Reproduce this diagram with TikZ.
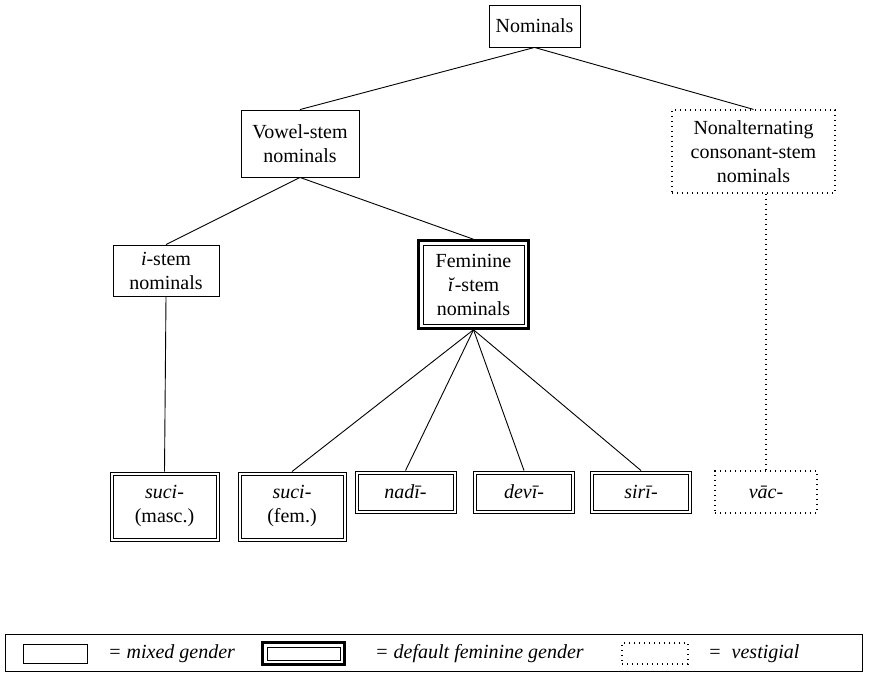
\documentclass[tikz,border=0pt]{standalone}
\usepackage{fontspec}
\setmainfont{Liberation Serif}
\usetikzlibrary{fit,calc}
\begin{document}
\begin{tikzpicture}[x=1pt,y=-1pt,
  txt/.style={font=\fontsize{20}{24}\selectfont, align=center, inner sep=0pt},
  mixedbox/.style={txt, draw, line width=0.9pt},
  leafbox/.style={txt, draw, line width=0.9pt},
  innerrule/.style={line width=0.9pt},
  vestbox/.style={txt, draw, line width=1.2pt, dash pattern=on 1.4pt off 3.6pt},
  link/.style={line width=0.9pt},
  vestlink/.style={line width=1.2pt, dash pattern=on 1.4pt off 3.6pt},
  legtxt/.style={font=\fontsize{20}{24}\selectfont\itshape, inner sep=0pt, anchor=west}
]
\useasboundingbox (0,0) rectangle (869,676);

% upper levels of the tree
\node[mixedbox, minimum width=91pt, minimum height=42pt] (nom) at (534.5,26) {Nominals};
\node[mixedbox, minimum width=118pt, minimum height=67pt] (vowel) at (300,143.5) {Vowel-stem\\nominals};
\node[vestbox, minimum width=163pt, minimum height=83pt] (nonalt) at (753.5,151.5) {Nonalternating\\consonant-stem\\nominals};
\node[mixedbox, minimum width=106pt, minimum height=51pt] (istem) at (166,270.5) {\textit{i}-stem\\nominals};
\node[txt, draw, line width=0.9pt, minimum width=101pt, minimum height=79pt] (fem) at (473.5,284.5) {Feminine\\\textit{ĭ}-stem\\nominals};
\node[draw, line width=2.6pt, inner sep=4pt, fit=(fem)] (femout) {};

% leaf stems
\node[leafbox, minimum width=109pt, minimum height=69pt] (sucim) at (164.5,506.5) {\textit{suci-}\\(masc.)};
\node[leafbox, minimum width=108pt, minimum height=69pt] (sucif) at (292,506.5) {\textit{suci-}\\(fem.)};
\node[leafbox, minimum width=101pt, minimum height=42pt] (nadi) at (405.5,492) {\textit{nadī-}};
\node[leafbox, minimum width=101pt, minimum height=42pt] (devi) at (524,492) {\textit{devī-}};
\node[leafbox, minimum width=101pt, minimum height=42pt] (siri) at (641,492) {\textit{sirī-}};
\node[vestbox, minimum width=102pt, minimum height=42pt] (vac) at (766,492) {\textit{vāc-}};

% inner rules of the double-ruled stem boxes
\foreach \n in {sucim,sucif,nadi,devi,siri}
  \draw[innerrule] ([shift={(3.5pt,-3.5pt)}]\n.north west) rectangle ([shift={(-3.5pt,3.5pt)}]\n.south east);

% connectors
\draw[link] (nom.south) -- (vowel.north);
\draw[link] (nom.south) -- (nonalt.north);
\draw[link] (vowel.south) -- (istem.north);
\draw[link] (vowel.south) -- (femout.north);
\draw[link] (istem.south) -- (sucim.north);
\draw[link] (femout.south) -- (sucif.north);
\draw[link] (femout.south) -- (nadi.north);
\draw[link] (femout.south) -- (devi.north);
\draw[link] (femout.south) -- (siri.north);
\coordinate (vacup) at (nonalt.south -| vac.north);
\draw[vestlink] (vacup) -- (vac.north);

% key
\node[draw, line width=0.9pt, minimum width=857pt, minimum height=37pt, inner sep=0pt] (key) at (433.5,652.5) {};
\node[draw, line width=0.9pt, minimum width=64pt, minimum height=19pt, inner sep=0pt] (keymixed) at (55,653.5) {};
\node[legtxt] (keymixedtxt) at (108,653.5) {= mixed gender};
\node[draw, line width=0.9pt, minimum width=73pt, minimum height=13pt, inner sep=0pt] (keyfem) at (303.5,653.5) {};
\node[draw, line width=2.6pt, inner sep=4pt, fit=(keyfem)] (keyfemout) {};
\node[legtxt] (keyfemtxt) at (375,653.5) {= default feminine gender};
\node[draw, line width=1.2pt, dash pattern=on 1.4pt off 3.6pt, minimum width=66pt, minimum height=21pt, inner sep=0pt] (keyvest) at (655,653.5) {};
\node[legtxt] (keyvesttxt) at (708,653.5) {=\ \ vestigial};
\end{tikzpicture}
\end{document}
